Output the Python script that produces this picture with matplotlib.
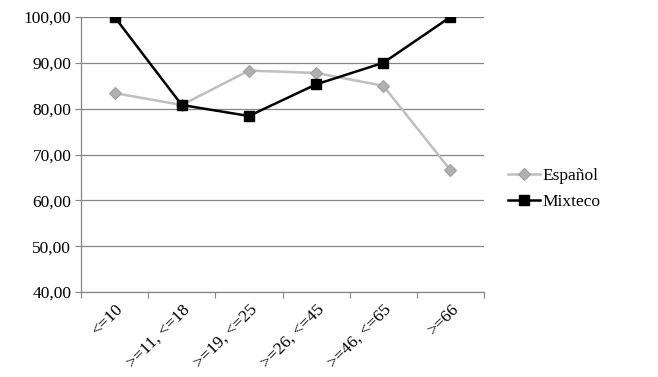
import matplotlib
matplotlib.use("Agg")
import matplotlib.pyplot as plt
import numpy as np

categories = ["<=10", ">=11, <=18", ">=19, <=25", ">=26, <=45", ">=46, <=65", ">=66"]
espanol = [83.4, 80.8, 88.3, 87.8, 85.0, 66.6]
mixteco = [100.0, 80.8, 78.4, 85.3, 90.0, 100.0]
yticks = [40, 50, 60, 70, 80, 90, 100]

plt.rcParams['font.family'] = ['Liberation Serif', 'DejaVu Serif']

fig = plt.figure(figsize=(6.58, 3.77), dpi=100)
ax = fig.add_axes([81/658, 1-292/377, (484-81)/658, (292-17)/377])

x = np.arange(len(categories))
grid_c = '#868686'
fs = 12.5
l1, = ax.plot(x, espanol, color='#BFBFBF', lw=1.8, marker='D', ms=6,
              mfc='#B0B0B0', mec='#A0A0A0', mew=0.8, label='Español', zorder=3)
l2, = ax.plot(x, mixteco, color='black', lw=1.8, marker='s', ms=7,
              mfc='black', mec='black', label='Mixteco', zorder=4)

ax.set_xlim(-0.5, len(categories)-0.5)
ax.set_ylim(40, 100)
ax.set_yticks(yticks)
ax.set_yticklabels([f"{v:.2f}".replace('.', ',') for v in yticks], fontsize=fs)
ax.yaxis.grid(True, color=grid_c, lw=0.9)
ax.set_axisbelow(True)

ax.set_xticks(np.arange(len(categories)+1)-0.5)
ax.set_xticklabels([])
ax.set_xticks(x, minor=True)
ax.set_xticklabels(categories, minor=True, rotation=45, ha='right', va='top',
                   rotation_mode='anchor', fontsize=fs)
ax.tick_params(axis='x', which='minor', length=0, pad=7)
ax.tick_params(axis='x', which='major', length=4, color=grid_c, direction='out')
ax.tick_params(axis='y', length=4, color=grid_c, direction='out', pad=3)

for s in ['top', 'right']:
    ax.spines[s].set_visible(False)
for s in ['left', 'bottom']:
    ax.spines[s].set_color(grid_c)
    ax.spines[s].set_linewidth(0.9)

fig.legend(handles=[l1, l2], loc='center left', bbox_to_anchor=(492/658, 1-189/377),
           frameon=False, fontsize=fs, handlelength=1.85, handletextpad=0.15,
           labelspacing=0.55, borderpad=0.4)

fig.savefig('out.png', dpi=100)
